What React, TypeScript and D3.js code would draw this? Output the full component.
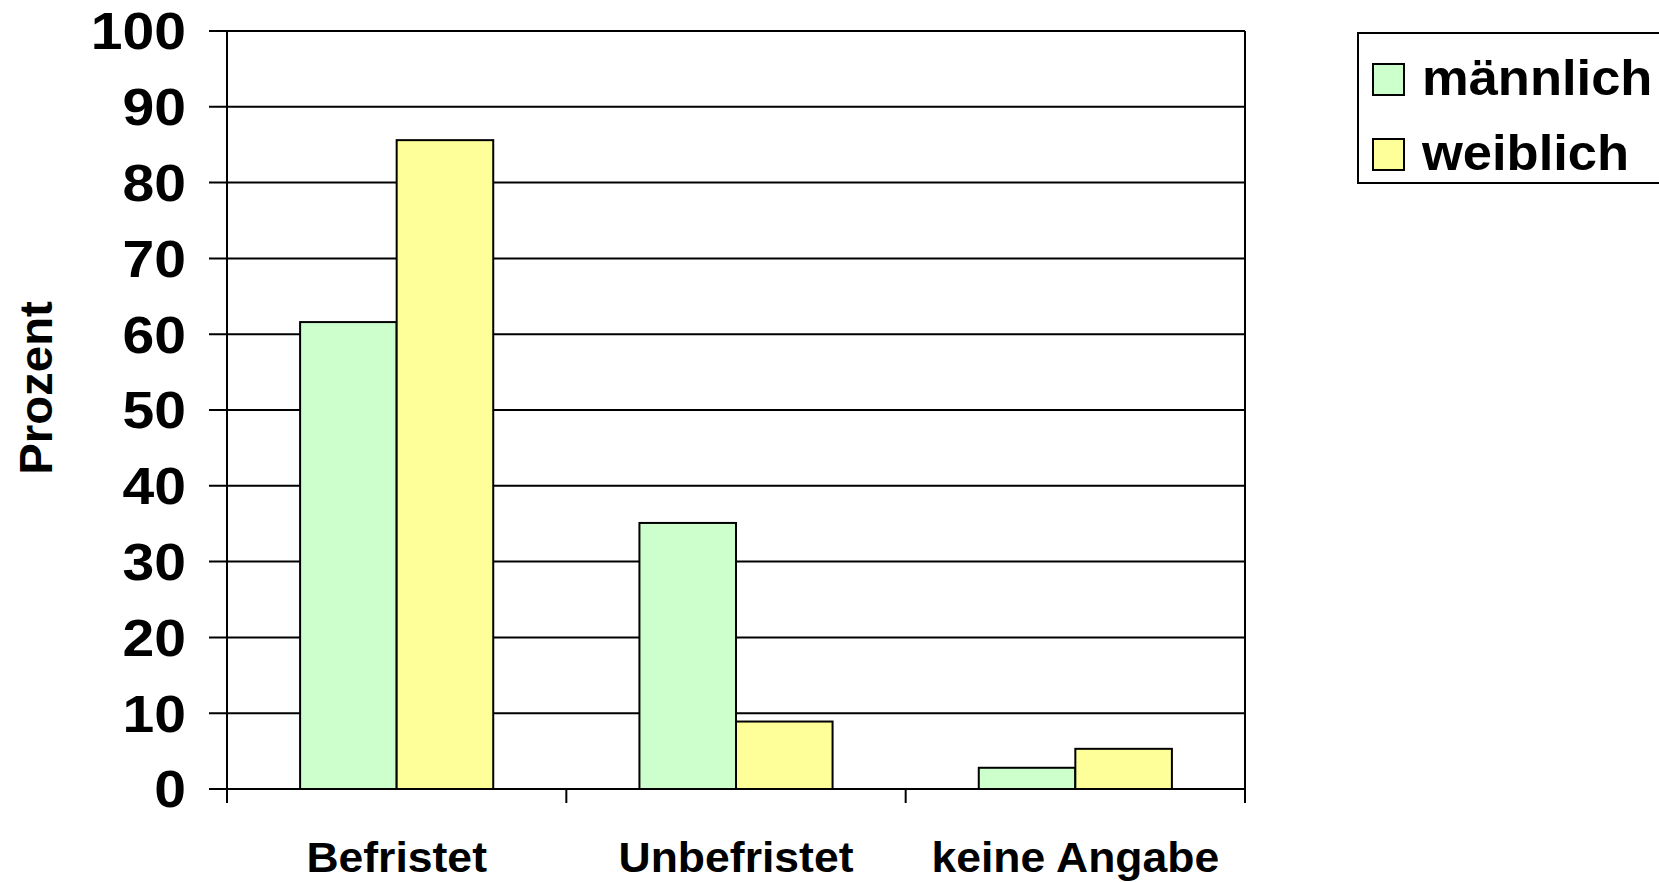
import * as d3 from "d3";

const categories = ["Befristet", "Unbefristet", "keine Angabe"];
const seriesNames = ["männlich", "weiblich"];
const maleValues = [61.6, 35.1, 2.8];
const femaleValues = [85.6, 8.9, 5.3];
const seriesColors = ["#CCFFCC", "#FFFF99"];
const yTicks = [0, 10, 20, 30, 40, 50, 60, 70, 80, 90, 100];

const width = 1659;
const height = 882;
const margin = { top: 31, right: 414, bottom: 93, left: 227 };
const font = "'Liberation Sans', Arial, sans-serif";

export default function App() {
  const innerW = width - margin.left - margin.right;
  const innerH = height - margin.top - margin.bottom;

  const x = d3.scaleBand<string>().domain(categories).range([0, innerW]).padding(0);
  const xs = d3
    .scaleBand<string>()
    .domain(seriesNames)
    .range([0, x.bandwidth()])
    .paddingInner(0)
    .paddingOuter(0.757);
  const y = d3.scaleLinear().domain([0, 100]).range([innerH, 0]);

  const rows = categories.map((c, i) => ({
    cat: c,
    vals: [maleValues[i], femaleValues[i]],
  }));

  const tickEdges = [...categories.map((c) => x(c)!), innerW];

  return (
    <svg
      width={width}
      height={height}
      style={{ position: "absolute", left: 0, top: 0, background: "#fff" }}
      fontFamily={font}
      fontWeight="bold"
    >
      <g transform={`translate(${margin.left},${margin.top})`}>
        {/* gridlines + left ticks */}
        {yTicks.map((t) => (
          <g key={t}>
            <line x1={-18} x2={innerW} y1={y(t)} y2={y(t)} stroke="#000" strokeWidth={2} />
            <text
              transform={`translate(-41,${y(t)}) scale(1.12,1)`}
              dy="0.36em"
              textAnchor="end"
              fontSize={51}
            >
              {t}
            </text>
          </g>
        ))}
        {/* axes frame */}
        <line x1={0} x2={0} y1={0} y2={innerH + 14} stroke="#000" strokeWidth={2} />
        <line x1={innerW} x2={innerW} y1={0} y2={innerH + 14} stroke="#000" strokeWidth={2} />
        {tickEdges.map((e, i) => (
          <line key={i} x1={e} x2={e} y1={innerH} y2={innerH + 14} stroke="#000" strokeWidth={2} />
        ))}

        {/* bars */}
        {rows.map((r) => (
          <g key={r.cat} transform={`translate(${x(r.cat)},0)`}>
            {r.vals.map((v, j) => (
              <rect
                key={j}
                x={xs(seriesNames[j])}
                y={y(v)}
                width={xs.bandwidth()}
                height={innerH - y(v)}
                fill={seriesColors[j]}
                stroke="#000"
                strokeWidth={2}
              />
            ))}
            <text
              transform={`translate(${x.bandwidth() / 2},${innerH + 83}) scale(1.06,1)`}
              textAnchor="middle"
              fontSize={42}
            >
              {r.cat}
            </text>
          </g>
        ))}
        <line x1={-18} x2={innerW} y1={innerH} y2={innerH} stroke="#000" strokeWidth={2} />
      </g>

      <text
        transform={`translate(52,388) rotate(-90) scale(1.03,1)`}
        textAnchor="middle"
        fontSize={46}
      >
        Prozent
      </text>

      {/* legend */}
      <g>
        <rect x={1358} y={33} width={330} height={150} fill="#fff" stroke="#000" strokeWidth={2} />
        {seriesNames.map((s, i) => (
          <g key={s} transform={`translate(1373,${95 + i * 75})`}>
            <rect x={0} y={-31} width={31} height={31} fill={seriesColors[i]} stroke="#000" strokeWidth={2} />
            <text transform="translate(49,0) scale(1.05,1)" fontSize={50}>
              {s}
            </text>
          </g>
        ))}
      </g>
    </svg>
  );
}
